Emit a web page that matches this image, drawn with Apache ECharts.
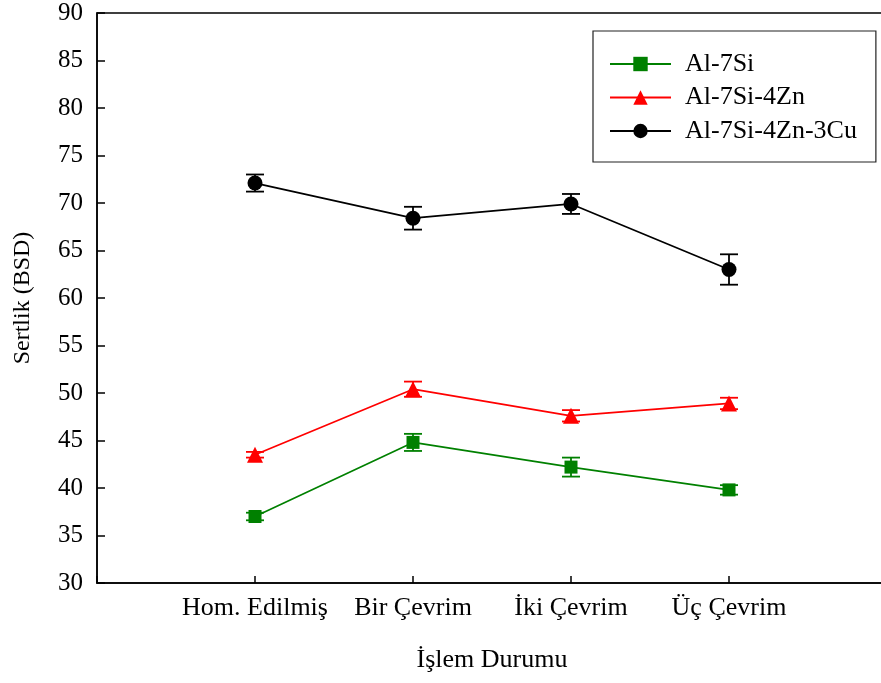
<!DOCTYPE html>
<html>
<head>
<meta charset="utf-8">
<script src="https://cdn.jsdelivr.net/npm/echarts@6/dist/echarts.min.js"></script>
<style>
  html, body { margin: 0; padding: 0; background: #fff; }
  #chart { width: 881px; height: 683px; }
</style>
</head>
<body>
<div id="chart"></div>
<script>
// işlem durumları (x ekseni)
const categories = ['Hom. Edilmiş', 'Bir Çevrim', 'İki Çevrim', 'Üç Çevrim']
const seriesNames = ['Al-7Si', 'Al-7Si-4Zn', 'Al-7Si-4Zn-3Cu']

// sertlik değerleri (BSD)
const si = [37.0, 44.8, 42.2, 39.8]
const zn = [43.5, 50.4, 47.6, 48.9]
const cu = [72.1, 68.4, 69.9, 63.0]

// hata çubukları (±)
const siErr = [0.4, 0.9, 1.0, 0.5]
const znErr = [0.3, 0.8, 0.6, 0.6]
const cuErr = [0.9, 1.2, 1.05, 1.6]

const yTicks = [30, 35, 40, 45, 50, 55, 60, 65, 70, 75, 80, 85, 90]

const colors = ['#008000', '#ff0000', '#000000']
const symbols = ['rect', 'triangle', 'circle']
const symbolSizes = [13, 16, 15]
const values = [si, zn, cu]
const errors = [siErr, znErr, cuErr]

const font = '"Liberation Serif", "Times New Roman", serif'

const myChart = echarts.init(document.getElementById('chart'))

const lineSeries = values.map((vals, k) => ({
  name: seriesNames[k],
  type: 'line',
  data: vals.map((v, i) => [i + 1, v]),
  symbol: symbols[k],
  symbolSize: symbolSizes[k],
  itemStyle: { color: colors[k] },
  lineStyle: { color: colors[k], width: 1.7 },
  z: 3
}))

// hata çubukları, legend'de görünmesin diye ayrı isim
const errorSeries = values.map((vals, k) => ({
  name: seriesNames[k] + ' err',
  type: 'custom',
  data: vals.map((v, i) => [i + 1, v - errors[k][i], v + errors[k][i]]),
  itemStyle: { color: colors[k] },
  renderItem: (params, api) => {
    const lo = api.coord([api.value(0), api.value(1)])
    const hi = api.coord([api.value(0), api.value(2)])
    const half = 9
    const style = { stroke: colors[k], lineWidth: 1.8 }
    return {
      type: 'group',
      children: [
        { type: 'line', shape: { x1: lo[0], y1: lo[1], x2: hi[0], y2: hi[1] }, style },
        { type: 'line', shape: { x1: lo[0] - half, y1: lo[1], x2: lo[0] + half, y2: lo[1] }, style },
        { type: 'line', shape: { x1: hi[0] - half, y1: hi[1], x2: hi[0] + half, y2: hi[1] }, style }
      ]
    }
  },
  z: 2
}))

const option = {
  animation: false,
  backgroundColor: '#fff',
  textStyle: { fontFamily: font },
  grid: {
    left: 97,
    top: 13,
    width: 790,
    bottom: 100,
    outerBoundsMode: 'none',
    show: true,
    borderColor: '#000',
    borderWidth: 1.5
  },
  legend: {
    data: seriesNames,
    orient: 'vertical',
    left: 593,
    top: 31,
    padding: [20, 19, 18, 16],
    itemWidth: 61,
    itemHeight: 18,
    itemGap: 7.5,
    borderColor: '#222',
    borderWidth: 1.2,
    textStyle: {
      fontFamily: font,
      fontSize: 26,
      lineHeight: 26,
      color: '#000',
      padding: [0, 0, 0, 9]
    }
  },
  xAxis: {
    type: 'value',
    min: 0,
    max: 5,
    interval: 1,
    name: 'İşlem Durumu',
    nameLocation: 'middle',
    nameGap: 64,
    nameTextStyle: { fontFamily: font, fontSize: 26, color: '#000' },
    splitLine: { show: false },
    axisLine: { lineStyle: { color: '#000', width: 1.5 } },
    axisTick: { inside: true, length: 7, lineStyle: { color: '#000', width: 1.5 } },
    axisLabel: {
      margin: 12,
      fontFamily: font,
      fontSize: 26,
      color: '#000',
      formatter: v => categories[v - 1] || ''
    }
  },
  yAxis: {
    type: 'value',
    min: yTicks[0],
    max: yTicks[yTicks.length - 1],
    interval: 5,
    name: 'Sertlik (BSD)',
    nameLocation: 'middle',
    nameGap: 62,
    nameTextStyle: { fontFamily: font, fontSize: 24, color: '#000' },
    splitLine: { show: false },
    axisLine: { lineStyle: { color: '#000', width: 1.5 } },
    axisTick: { inside: true, length: 8, lineStyle: { color: '#000', width: 1.5 } },
    axisLabel: { margin: 14, fontFamily: font, fontSize: 25, color: '#000' }
  },
  series: [...lineSeries, ...errorSeries]
}

myChart.setOption(option)
</script>
</body>
</html>
